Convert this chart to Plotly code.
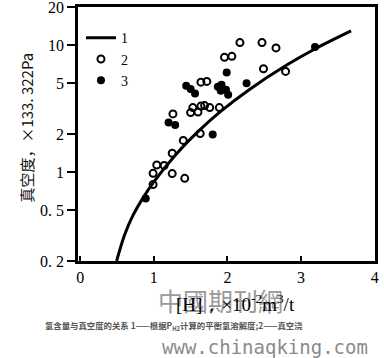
import plotly.graph_objects as go

# Curve 1: equilibrium H solubility from P_H2
curve_x = [0.495, 0.6, 0.72, 0.86, 1.0, 1.3, 1.6, 1.9, 2.3, 2.8, 3.2, 3.68]
curve_y = [0.2, 0.318, 0.461, 0.637, 0.84, 1.38, 2.09, 2.99, 4.49, 6.95, 9.42, 12.97]

# Series 2 (open circles)
s2_x = [2.17, 2.47, 2.66, 1.96, 2.06, 2.49, 2.79, 1.64, 1.72, 1.50, 1.53, 1.60, 1.64,
        1.69, 1.76, 1.89, 1.26, 1.63, 1.40, 1.25, 1.04, 1.14, 0.99, 1.25, 1.42, 0.99]
s2_y = [10.5, 10.5, 9.53, 8.03, 8.18, 6.53, 6.22, 5.12, 5.19, 2.95, 3.23, 2.98, 3.32,
        3.35, 3.23, 3.23, 2.88, 2.02, 1.78, 1.41, 1.14, 1.13, 0.98, 0.975, 0.895, 0.80]

# Series 3 (filled circles)
s3_x = [3.19, 1.99, 2.26, 1.44, 1.50, 1.56, 1.87, 1.92, 1.91, 1.98, 2.01, 1.80, 1.20, 1.29, 0.89]
s3_y = [9.71, 6.11, 5.02, 4.80, 4.52, 4.16, 4.72, 4.89, 4.39, 4.47, 4.08, 1.98, 2.46, 2.35, 0.62]

x_ticks = [0, 1, 2, 3, 4]
y_ticks = [0.2, 0.5, 1, 2, 5, 10, 20]
y_tick_text = ["0. 2", "0. 5", "1", "2", "5", "10", "20"]

serif = "Liberation Serif"
cjk = "Noto Sans CJK SC"

fig = go.Figure()
fig.add_trace(go.Scatter(x=curve_x, y=curve_y, mode="lines", name="1",
                         line=dict(color="black", width=3, shape="spline")))
fig.add_trace(go.Scatter(x=s2_x, y=s2_y, mode="markers", name="2",
                         marker=dict(symbol="circle-open", size=7, color="black",
                                     line=dict(width=2, color="black"))))
fig.add_trace(go.Scatter(x=s3_x, y=s3_y, mode="markers", name="3",
                         marker=dict(symbol="circle", size=8, color="black")))

fig.update_layout(
    width=384, height=358,
    margin=dict(l=78, r=9, t=7, b=97, autoexpand=False),
    paper_bgcolor="white", plot_bgcolor="white",
    showlegend=True,
    legend=dict(x=0.01, y=0.94, xanchor="left", yanchor="top",
                font=dict(family=serif, size=14, color="black"),
                bgcolor="rgba(0,0,0,0)", tracegroupgap=0, itemwidth=30),
    font=dict(family=serif, size=15, color="black"),
)
fig.update_xaxes(range=[-0.03, 4.005], tickvals=x_ticks, ticks="inside", ticklen=5,
                 tickwidth=1.5, tickcolor="black", showline=True, linewidth=2.5,
                 linecolor="black", mirror=True, showgrid=False, zeroline=False,
                 automargin=False, ticklabeloverflow="allow",
                 tickfont=dict(family=serif, size=16))
fig.update_yaxes(type="log", range=[-0.6992, 1.3013], tickvals=y_ticks, ticktext=y_tick_text,
                 ticks="outside", ticklen=8, tickwidth=1.5, tickcolor="black",
                 showline=True, linewidth=2.5, linecolor="black", mirror=True,
                 showgrid=False, zeroline=False, automargin=False,
                 ticklabeloverflow="allow",
                 tickfont=dict(family=serif, size=16))

# y-axis title
fig.add_annotation(text="真空度，×133. 322Pa", xref="paper", yref="paper",
                   x=-0.172, y=0.525, xanchor="center", yanchor="middle",
                   textangle=-90, showarrow=False,
                   font=dict(family=cjk, size=15, color="#111111"))
# watermark overlapping x title
fig.add_annotation(text="中國期刊網", xref="paper", yref="paper", x=0.48, y=-0.155,
                   xanchor="center", yanchor="middle", showarrow=False,
                   font=dict(family=cjk, size=25, color="#9a9a9a"))
# x-axis title
fig.add_annotation(text="[H]，×10<sup>-2</sup>m<sup>3</sup>/t", xref="paper", yref="paper",
                   x=0.53, y=-0.165, xanchor="center", yanchor="middle", showarrow=False,
                   font=dict(family=serif, size=19, color="black"))
# caption
fig.add_annotation(text="<b>氢含量与真空度的关系 1——根据P<sub>H2</sub>计算的平衡氢溶解度;2——真空浇</b>",
                   xref="paper", yref="paper", x=0.323, y=-0.255,
                   xanchor="center", yanchor="middle", showarrow=False,
                   font=dict(family=cjk, size=8.4, color="#555555"))
# site watermark
fig.add_annotation(text="www.chinaqking.com", xref="paper", yref="paper", x=0.63, y=-0.34,
                   xanchor="center", yanchor="middle", showarrow=False,
                   font=dict(family="DejaVu Sans Mono", size=19, color="#8a8a8a"))

fig.write_html("out.html", config={"displayModeBar": False},
               post_script="document.body.style.margin='0';")
